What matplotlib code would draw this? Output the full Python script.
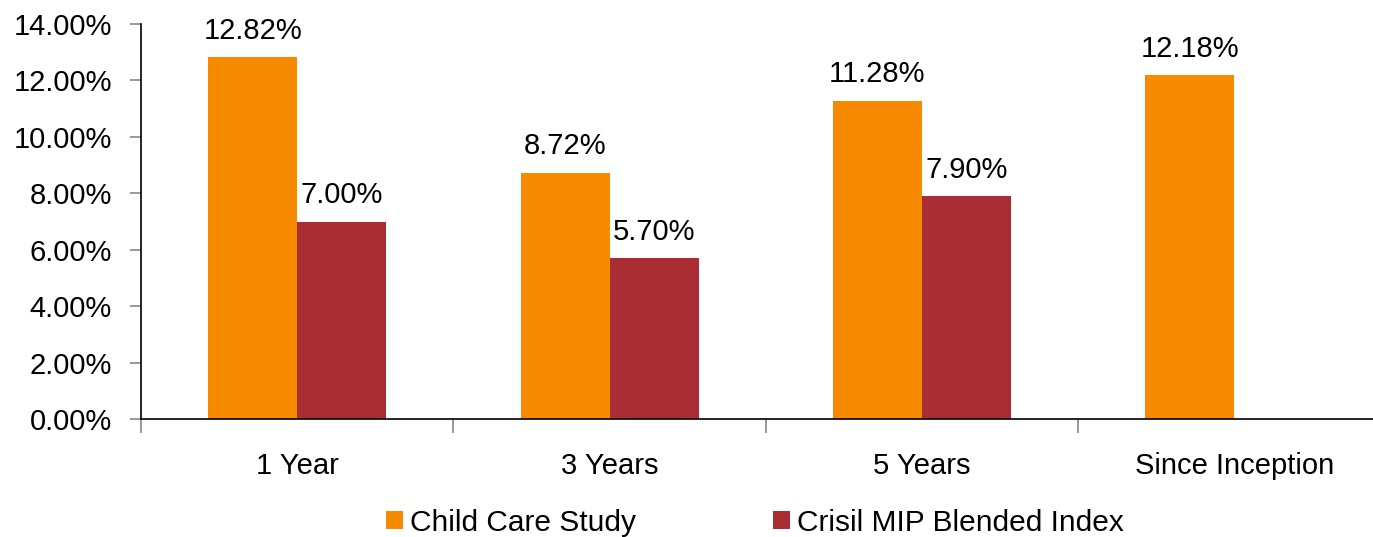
import numpy as np
import matplotlib.pyplot as plt

categories = ['1 Year', '3 Years', '5 Years', 'Since Inception']
child_care = [12.82, 8.72, 11.28, 12.18]
crisil_mip = [7.00, 5.70, 7.90, np.nan]
series_names = ['Child Care Study', 'Crisil MIP Blended Index']
yticks = [0, 2, 4, 6, 8, 10, 12, 14]

plt.rcParams['font.family'] = ['Liberation Sans', 'DejaVu Sans']

fig = plt.figure(figsize=(13.73, 5.37), dpi=100)
ax = fig.add_axes([0.1027, 0.2197, 0.910, 0.7356])

x = np.arange(len(categories))
w = 0.285
colors = ['#F88A00', '#A92D32']
b1 = ax.bar(x - w / 2, child_care, w, color=colors[0], label=series_names[0])
b2 = ax.bar(x + w / 2, crisil_mip, w, color=colors[1], label=series_names[1])

for bars, vals in [(b1, child_care), (b2, crisil_mip)]:
    for bar, v in zip(bars, vals):
        if np.isnan(v):
            continue
        ax.annotate(f'{v:.2f}%', (bar.get_x() + bar.get_width() / 2, v),
                    xytext=(0, 9), textcoords='offset points',
                    ha='center', va='bottom', fontsize=21)

ax.set_xlim(-0.5, len(categories) - 0.5)
ax.set_ylim(0, 14)
ax.set_yticks(yticks)
ax.set_yticklabels([f'{t:.2f}%' for t in yticks], fontsize=21)
ax.tick_params(axis='y', length=8, color='#888888', width=1.2, pad=13)

# category ticks sit between groups, labels at group centres
ax.set_xticks(np.arange(len(categories) + 1) - 0.5)
ax.set_xticks(x, minor=True)
ax.set_xticklabels([])
ax.set_xticklabels(categories, minor=True, fontsize=21)
ax.tick_params(axis='x', which='major', length=10, color='#888888', width=1.2)
ax.tick_params(axis='x', which='minor', length=0, pad=24)

for s in ['top', 'right']:
    ax.spines[s].set_visible(False)
ax.spines['left'].set_linewidth(1.2)
ax.spines['bottom'].set_linewidth(1.2)

fig.legend(loc='center', bbox_to_anchor=(0.550, 0.026), ncol=2, frameon=False,
           fontsize=21.5, handlelength=0.55, handleheight=0.55, handletextpad=0.25,
           columnspacing=4.6, borderpad=0)

fig.savefig('out.png', dpi=100)
